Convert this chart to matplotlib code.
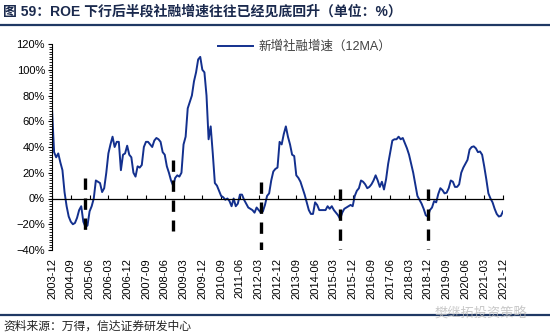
import numpy as np
import matplotlib
matplotlib.use("Agg")
import matplotlib.pyplot as plt
from matplotlib.lines import Line2D
from matplotlib.ticker import MultipleLocator, FuncFormatter

plt.rcParams['font.family'] = ['Liberation Sans', 'Noto Sans CJK SC', 'DejaVu Sans']

# 新增社融增速（12MA），月度，2003-12 ~ 2021-12，单位 %
growth = [
    70, 36, 32, 35, 28, 22, 5, -6, -14, -18, -20, -19,
    -15, -9, -6, -18, -22, -21, -10, -6, 0, 14, 13, 12,
    5, 8, 20, 35, 42, 48, 40, 44, 44, 22, 34, 35,
    41, 34, 32, 20, 17, 25, 24, 26, 40, 44, 44, 42,
    40, 45, 47, 46, 44, 36, 34, 25, 20, 14, 10, 16,
    18, 17, 20, 42, 48, 70, 75, 80, 91, 98, 108, 110,
    100, 98, 80, 46, 56, 35, 12, 10, 6, 2, 1, -1,
    0, -2, -6, 0, -6, -4, 3, 3, -1, -4, -7, -8,
    -9, -11, -7, -9, -11, -10, -5, 2, 4, 14, 21, 23,
    24, 44, 42, 50, 56, 48, 42, 34, 33, 18, 16, 13,
    8, 3, -3, -9, -12, -12, -3, -5, -9, -9, -9, -9,
    -6, -8, -6, -9, -11, -13, -16, -11, -8, -7, -6, -5,
    -6, 2, 6, 8, 14, 13, 11, 8, 9, 11, 14, 18,
    14, 9, 13, 7, 15, 27, 36, 45, 46, 46, 48, 46,
    47, 43, 39, 34, 27, 20, 11, 2, -1, -4, -8, -13,
    -14, -9, -7, -2, -3, 3.5, 8, 6.5, 4, 4.5, 8, 14,
    13, 9, 9, 11, 20, 24, 27, 30, 38, 40, 40.5, 39,
    36, 36.5, 34, 25, 15, 4, 0, -3, -8, -12, -14, -13.5,
    -10,
]
dates = [f"{2003 + (11 + i) // 12}-{(11 + i) % 12 + 1:02d}" for i in range(len(growth))]

# 标注的底部位置（竖虚线）
trough_dates = ['2005-04', '2008-10', '2012-04', '2015-06', '2018-12']
trough_top = [16, 30, 13, 7, 7]
trough_bottom = [-31, -25, -40, -40, -40]

tick_step = 9
legend_label = '新增社融增速（12MA）'
title = '图 59：ROE 下行后半段社融增速往往已经见底回升（单位：%）'
source = '资料来源：万得，信达证券研发中心'

navy = '#13308E'
frame = '#1F3864'

fig = plt.figure(figsize=(5.5, 3.36), dpi=100)
ax = fig.add_axes([52 / 550, 1 - 250 / 336, 451 / 550, 206 / 336])

x = np.arange(len(growth))
ax.plot(x, growth, color=navy, lw=1.4, label=legend_label)

# 虚线从上往下画，让第一段是完整的短线
for d, top, bot in zip(trough_dates, trough_top, trough_bottom):
    ax.plot([dates.index(d)] * 2, [top, bot], color='black', lw=2.4,
            linestyle=(0, (3.4, 2.6)), solid_capstyle='butt', dash_capstyle='butt')

ax.set_xlim(0, len(growth) - 1)
ax.set_ylim(-40, 120)
ax.yaxis.set_major_locator(MultipleLocator(20))
ax.yaxis.set_minor_locator(MultipleLocator(2))
ax.yaxis.set_major_formatter(FuncFormatter(lambda v, p: f"{v:.0f}%".replace('-', '\u2212')))
ax.tick_params(axis='y', which='major', length=3, width=0.8, labelsize=8, pad=2)
ax.tick_params(axis='y', which='minor', length=2, width=0.6)

ticks = x[::tick_step]
ax.set_xticks(ticks)
ax.spines['bottom'].set_position(('data', 0))
ax.tick_params(axis='x', direction='in', length=3, width=0.8, labelbottom=False)
for s in ['top', 'right']:
    ax.spines[s].set_visible(False)
ax.spines['left'].set_linewidth(0.8)
ax.spines['bottom'].set_linewidth(0.9)

sec = ax.secondary_xaxis('bottom')
sec.set_xticks(ticks, labels=[dates[i] for i in ticks], rotation=90)
sec.tick_params(length=0, labelsize=8, pad=6)
sec.spines['bottom'].set_visible(False)

leg = ax.legend(loc='center left', bbox_to_anchor=(0.355, 0.985), frameon=False,
                fontsize=9, handlelength=2.8, handletextpad=0.4, borderpad=0)
for t in leg.get_texts():
    t.set_color('#404040')

fig.text(0.006, 1 - 12 / 336, title, fontsize=10, fontweight='bold',
         color='#1B2A4E', va='center', ha='left')
fig.add_artist(Line2D([0, 1], [1 - 25 / 336, 1 - 25 / 336], transform=fig.transFigure,
                      color=frame, lw=1.6))
fig.add_artist(Line2D([0, 1], [1 - 315 / 336, 1 - 315 / 336], transform=fig.transFigure,
                      color=frame, lw=1.6))
fig.text(0.006, 1 - 327 / 336, source, fontsize=8.5, color='#222222',
         va='center', ha='left', style='italic')
fig.text(0.79, 1 - 314 / 336, '樊继拓投资策略', fontsize=9.5, color='#BBBBBB',
         va='center', ha='left', alpha=0.8)

fig.savefig('out.png', dpi=100)
